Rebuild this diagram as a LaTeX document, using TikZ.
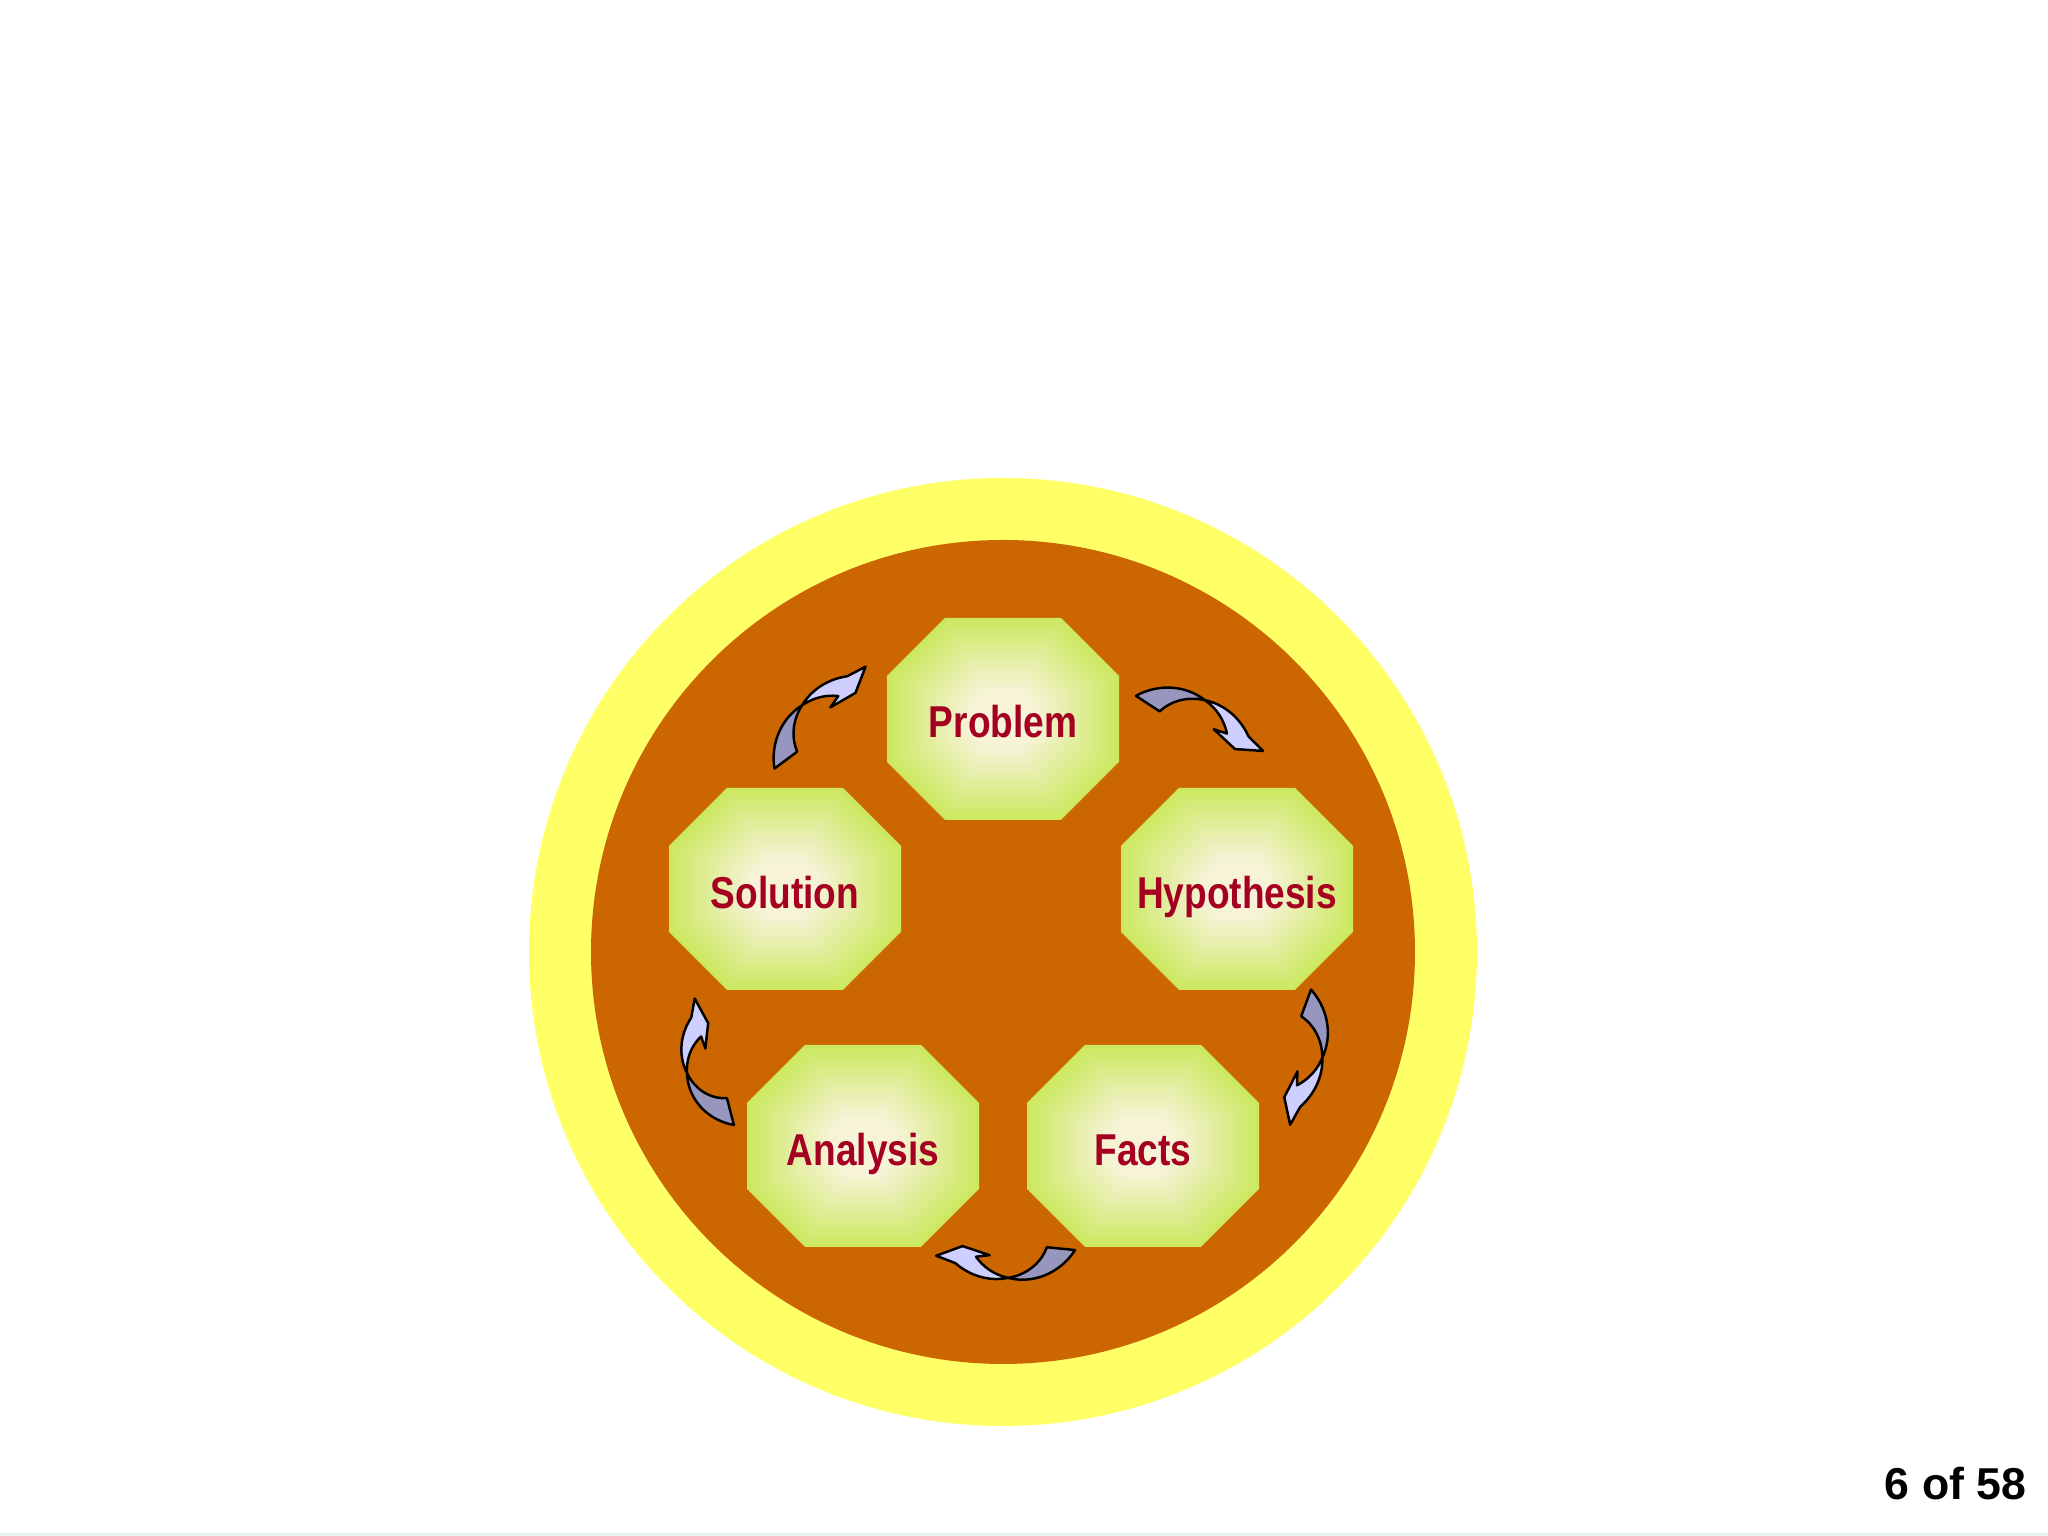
\documentclass[tikz,border=0pt]{standalone}
\usepackage{fontspec}
\usepackage{tikz}
\newfontfamily\labelfont[FakeStretch=0.83]{Liberation Sans}
\newfontfamily\pagefont{Liberation Sans}

\definecolor{ringyellow}{RGB}{255,255,102}
\definecolor{discorange}{RGB}{204,102,0}
\definecolor{octgreen}{RGB}{204,232,96}
\definecolor{octcream}{RGB}{246,243,214}
\definecolor{labelred}{RGB}{165,0,33}
\definecolor{arrowgray}{RGB}{150,150,190}
\definecolor{arrowlilac}{RGB}{206,206,255}
\definecolor{bottomline}{RGB}{232,240,240}

\tikzset{
  steplabel/.style={font=\labelfont\bfseries\fontsize{12.7}{15}\selectfont, text=labelred, anchor=base},
  pagenum/.style={font=\pagefont\bfseries\fontsize{12.7}{15}\selectfont, text=black, inner sep=0pt},
  arrowdark/.style={fill=arrowgray, draw=black, line width=0.7pt, line join=round},
  arrowlight/.style={fill=arrowlilac, draw=black, line width=0.7pt, line join=round},
}

% octagon with a concentric shading, centred on a coordinate
\newcommand{\octagon}[1]{%
  \foreach \i in {0,...,25} {
    \pgfmathsetmacro\s{1-0.028*\i}
    \pgfmathtruncatemacro\p{4*\i}
    \fill[octcream!\p!octgreen, shift={(#1)}, scale=\s]
      (-1.16,-0.43) -- (-1.16,0.43) -- (-0.58,1.01) -- (0.58,1.01) --
      (1.16,0.43) -- (1.16,-0.43) -- (0.58,-1.01) -- (-0.58,-1.01) -- cycle;
  }
}

% twisted curved arrow: centre, radius, tail angle, twist angle, head angle
\newcommand{\cyclearrow}[5]{%
  \begin{scope}[shift={(#1)}]
    \pgfmathsetmacro\tA{#3+6}
    \pgfmathsetmacro\tB{#3-6}
    \pgfmathsetmacro\tE{#5-8}
    \pgfmathsetmacro\tT{#5-20}
    \pgfmathsetmacro\tC{#5-18}
    \pgfmathsetmacro\tK{#5+12}
    \filldraw[arrowdark]
      plot[domain=\tA:#4, samples=20] (\x:{#2+0.13*(\x-(#4))/(\tA-(#4))})
      -- plot[domain=#4:\tB, samples=20] (\x:{#2-0.13*(\x-(#4))/(\tB-(#4))})
      -- cycle;
    \filldraw[arrowlight]
      plot[domain=#4:\tE, samples=20] (\x:{#2+0.14*(\x-(#4))/(\tE-(#4))})
      -- (\tT:{#2+0.27}) -- (\tC:{#2-0.01}) -- (\tK:{#2-0.16}) -- (#5:{#2-0.06})
      -- plot[domain=#5:#4, samples=20] (\x:{#2-0.06*(\x-(#4))/(#5-(#4))})
      -- cycle;
  \end{scope}
}

\begin{document}
\begin{tikzpicture}
  \useasboundingbox (0,0) rectangle (20.48,15.36);
  \fill[white] (0,0) rectangle (20.48,15.36);
  \fill[bottomline] (0,0) rectangle (20.48,0.03);

  % rings
  \coordinate (hub) at (10.03,5.84);
  \fill[ringyellow] (hub) circle (4.74);
  \fill[discorange] (hub) circle (4.12);

  % steps
  \coordinate (pP) at (10.03,8.17);
  \coordinate (pH) at (12.37,6.47);
  \coordinate (pF) at (11.43,3.90);
  \coordinate (pA) at (8.63,3.90);
  \coordinate (pS) at (7.85,6.47);
  \octagon{pP}
  \octagon{pH}
  \octagon{pF}
  \octagon{pA}
  \octagon{pS}
  \node[steplabel] (problem) at ([yshift=-0.19cm]pP) {Problem};
  \node[steplabel] (hypothesis) at ([yshift=-0.2cm]pH) {Hypothesis};
  \node[steplabel] (facts) at ([yshift=-0.2cm]pF) {Facts};
  \node[steplabel] (analysis) at ([yshift=-0.2cm]pA) {Analysis};
  \node[steplabel] (solution) at ([yshift=-0.2cm]pS) {Solution};

  % arrows between the steps
  \coordinate (toHyp) at (11.79,7.85);
  \coordinate (toFacts) at (12.67,4.92);
  \coordinate (toAna) at (10.12,3.14);
  \coordinate (toSol) at (7.35,4.73);
  \coordinate (toProb) at (8.41,7.89);
  \cyclearrow{toHyp}{0.57}{122}{63}{20}
  \cyclearrow{toFacts}{0.57}{45}{-14}{-54}
  \cyclearrow{toAna}{0.56}{-30}{-94}{-136}
  \cyclearrow{toSol}{0.49}{263}{192}{142}
  \cyclearrow{toProb}{0.57}{192}{133}{93}

  \node[pagenum, anchor=base east] (pageno) at (20.27,0.36) {6 of 58};
\end{tikzpicture}
\end{document}
